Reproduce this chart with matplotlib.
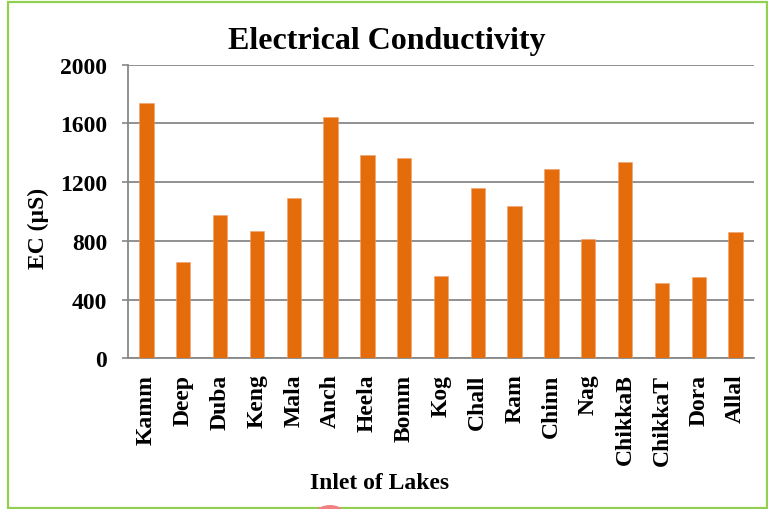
import matplotlib
matplotlib.use("Agg")
import matplotlib.pyplot as plt
from matplotlib.patches import Rectangle, Circle

lakes = ["Kamm", "Deep", "Duba", "Keng", "Mala", "Anch", "Heela", "Bomm", "Kog",
         "Chall", "Ram", "Chinn", "Nag", "ChikkaB", "ChikkaT", "Dora", "Allal"]
ec_values = [1737, 654, 974, 865, 1090, 1644, 1385, 1364, 561,
             1158, 1035, 1290, 811, 1337, 511, 552, 860]
y_ticks = [0, 400, 800, 1200, 1600, 2000]

plt.rcParams["font.family"] = ["Liberation Serif", "DejaVu Serif"]
plt.rcParams["font.weight"] = "bold"

W, H = 768, 510
fig = plt.figure(figsize=(W / 100, H / 100), dpi=100)
ax = fig.add_axes([128 / W, 1 - 359.3 / H, (754 - 128) / W, (359.3 - 65.7) / H])

x = list(range(len(lakes)))
ax.bar(x, ec_values, width=0.39, color="#E46C0A", edgecolor="#F0A070",
       linewidth=0.4, zorder=3)

ax.set_xlim(-0.5, len(lakes) - 0.5)
ax.set_ylim(0, 2000)
ax.set_yticks(y_ticks)
ax.set_yticklabels([str(v) for v in y_ticks], fontsize=17, fontweight="bold")
ax.set_xticks(x)
ax.set_xticklabels(lakes, rotation=90, fontsize=17, fontweight="bold")

ax.grid(axis="y", color="#888888", linewidth=1.3, zorder=0)
for side in ("top", "right"):
    ax.spines[side].set_visible(False)
for side in ("left", "bottom"):
    ax.spines[side].set_color("#888888")
    ax.spines[side].set_linewidth(1.3)
ax.tick_params(axis="y", length=4, width=1.2, color="#888888", pad=11)
ax.tick_params(axis="x", length=0, pad=11)

fig.text(387 / W, 1 - 42 / H, "Electrical Conductivity", ha="center", va="center",
         fontsize=23, fontweight="bold")
fig.text(380 / W, 1 - 484 / H, "Inlet of Lakes", ha="center", va="center",
         fontsize=17, fontweight="bold")
fig.text(38 / W, 1 - 228 / H, "EC (µS)", ha="center", va="center", rotation=90,
         fontsize=17, fontweight="bold")

# green frame around the chart area
fig.patches.append(Rectangle((7.5 / W, 1 - 509 / H), (767 - 7.5) / W, (509 - 3) / H,
                             transform=fig.transFigure, fill=False,
                             edgecolor="#92D050", linewidth=1.6))
# small red marker at the bottom edge
fig.patches.append(Circle((330, H - 529), 23, transform=None,
                          facecolor="#F28282", edgecolor="none"))

fig.savefig("out.png", dpi=100)
